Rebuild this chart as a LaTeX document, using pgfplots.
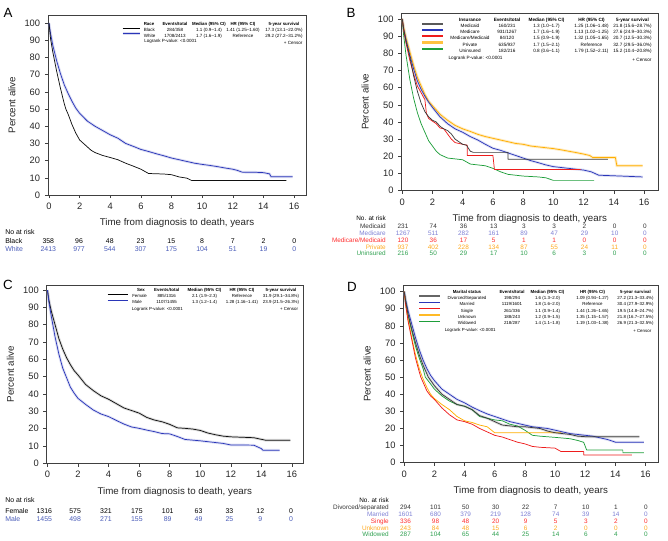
\documentclass[border=0pt]{standalone}
\usepackage{pgfplots}
\usepackage{pgfplotstable}
\pgfplotsset{compat=1.18}
\usepackage{fontspec}
\setmainfont{Liberation Sans}

\definecolor{cblack}{HTML}{111111}
\definecolor{cgray}{HTML}{3A3A3A}
\definecolor{cblue}{HTML}{2A36B8}
\definecolor{cred}{HTML}{EE1C1C}
\definecolor{corange}{HTML}{FFAE00}
\definecolor{cgreen}{HTML}{1E9E3A}
\definecolor{tblue}{HTML}{4A5CB8}
\definecolor{tpurple}{HTML}{7E80D4}
\definecolor{tred}{HTML}{FF2E2E}
\definecolor{torange}{HTML}{FFA91F}
\definecolor{tgreen}{HTML}{2FA050}

% ---------------- Panel A ----------------
\pgfplotstableread{
t S
0 100
0.1 94
0.25 87
0.5 78
0.75 70.5
1 64
1.25 59
1.5 54.5
1.75 50.5
2 47.5
2.5 43
3 40
3.5 37.5
4 35
4.5 33
5 30
5.5 28.3
6 26.5
6.5 25.3
7 24
7.5 22.8
8 21.5
8.5 20.5
9 19.5
9.5 18.5
10 17.8
10.5 17.2
11 16.5
11.5 15.7
12 15
12.3 14.3
12.6 13.3
13.5 13.2
14 13
14.4 12.3
14.5 10.6
15.9 10.6
}\Awhite
\pgfplotstableread{
t S
0 100
0.1 91
0.25 83
0.5 72
0.75 62
1 53
1.1 50
1.25 47
1.5 41
1.75 36
2 32
2.25 30
2.5 28
2.75 26
3 24.7
3.5 23
4 21.8
4.5 20.5
5 18.5
5.5 16.8
6 15
6.3 13.5
6.5 12.5
7.5 12.2
8 11.8
8.5 10.5
9 9.8
9.3 8.5
15.5 8.5
}\Ablack
% ---------------- Panel B ----------------
\pgfplotstableread{
t S
0 100
0.1 95
0.25 89
0.5 81
0.75 73
1 66
1.25 61
1.5 56
1.75 52
2 49.5
2.5 44.5
3 41
3.5 38
4 36
4.5 34.5
5 32.8
5.5 31.5
6 30.5
6.5 29.5
7 28.5
7.5 27.5
8 27
8.5 26
9 25.5
9.5 25
10 24.5
10.5 23.8
11 23
11.5 22.2
12 21.3
12.4 20.5
12.6 19.3
14.1 19.3
14.2 14.5
15.9 14.5
}\Bprivate
\pgfplotstableread{
t S
0 100
0.1 94
0.25 88
0.5 79
0.75 71
1 64
1.25 59
1.5 55
1.75 51.5
2 48.5
2.5 43
3 39
3.5 36
4 34
4.5 31.5
5 29.5
5.5 27
6 24.7
6.5 23.5
7 22
7.5 20.5
8 19
8.5 17.5
9 16.3
9.5 15
10 14
10.5 13.5
11 13
11.5 12.5
12 12
12.5 11
13 9
14.5 8.5
15.9 8
}\Bmedicare
\pgfplotstableread{
t S
0 100
0.1 94
0.25 87
0.5 78
0.75 67
1 58
1.25 51
1.5 46
1.75 43
2 41
2.25 40
2.5 37.5
2.75 36
3 35
3.25 33
3.5 30
3.75 28.5
4 27
4.25 26.5
4.5 23
4.7 22.3
7 22.3
7 18.3
13.6 18.3
}\Bmedicaid
\pgfplotstableread{
t S
0 100
0.1 93
0.25 86
0.5 76
0.75 68
1 61
1.25 57
1.5 53
1.6 45
1.75 42
2 40.5
2.25 39
2.5 36.5
2.75 36
3 33
3.25 30
3.5 28
4 27
4.3 26.5
4.3 20.5
6 20.5
6.1 12.3
11.8 12.3
}\Bmedmed
\pgfplotstableread{
t S
0 100
0.1 90
0.25 79
0.5 65
0.75 54
1 45.5
1.25 39
1.5 34
1.75 29
2 26
2.25 23
2.5 21
3 19
3.5 18.5
4 18
4.5 15.5
5 15
5.5 14.5
6 13
6.5 11
7 9.5
7.5 9
8 8.5
9 8
9.5 7.5
10 6
12.7 6
}\Buninsured
% ---------------- Panel C ----------------
\pgfplotstableread{
t S
0 100
0.1 94
0.25 88
0.5 80
0.75 72
1 66
1.25 61
1.5 57
1.75 53.5
2 51
2.5 45.5
3 42
3.5 39
4 37
4.5 34.5
5 32
5.5 30.5
6 29
6.5 26.5
7 25
7.5 24
8 22.5
8.5 20.5
9 20.2
9.5 19.8
10 19
10.5 17.5
11 16.5
11.5 15.7
12 15.3
13.5 14.8
14.3 13.3
15.9 13.3
}\Cfemale
\pgfplotstableread{
t S
0 100
0.1 93
0.25 85
0.5 73
0.75 63
1 55
1.25 49.5
1.5 44
1.75 40.5
2 37.5
2.5 34
3 30.8
3.5 28.5
4 27
4.5 24.8
5 22.7
5.5 21
6 20.2
6.5 19.2
7 18.3
7.5 17.2
8 17
8.5 15.5
9 13.8
10 13
11 12
11.5 11.5
12 10.6
13.5 10.5
14 8.5
14.1 7.6
15.2 7.6
}\Cmale
% ---------------- Panel D ----------------
\pgfplotstableread{
t S
0 100
0.1 95
0.25 89
0.5 81
0.75 73
1 66
1.25 60
1.5 55
1.75 51
2 48
2.5 43
3 40
3.5 37
4 35
4.5 32.5
5 30.4
5.5 28.5
6 27
6.5 25.5
7 24
7.5 23
8 22
8.5 21
9 20.5
9.5 20
10 19
10.5 18
11 17
11.5 16.5
12 16
12.5 15.5
13 14.5
13.5 13.5
14 12
15.9 12
}\Dmarried
\pgfplotstableread{
t S
0 100
0.1 94
0.25 87
0.5 78
0.75 70
1 63
1.25 57
1.5 52
1.6 50
2 45
2.5 40
3 37
3.5 34
4 33
4.5 31
5 27.5
5.5 26
6 24
6.5 22
7 21.5
7.5 21
8 21
8.5 20.5
9 20
9.5 18.5
10 17.5
10.5 17
11 16.5
11.5 15.5
12 15.2
15.6 15.2
}\Ddivorced
\pgfplotstableread{
t S
0 100
0.1 92
0.25 83
0.5 72
0.75 61
1 53
1.1 50
1.25 47
1.5 42
1.75 39
2 37
2.5 32
3 28
3.5 25
4 24
4.5 22.5
5 20
5.5 18
6 16
6.5 15
7 13.5
7.5 12
8 11
8.5 9.5
9 9
10 8.5
10.4 6.5
11.9 6.5
11.9 4.5
15.1 4.5
}\Dsingle
\pgfplotstableread{
t S
0 100
0.1 92
0.25 84
0.5 73
0.75 63
1 55
1.2 50
1.5 44
1.75 40
2 37.5
2.5 34
3 31
3.5 27
4 24.5
4.5 23.5
5 22
5.5 21
6 17.5
10.4 17.5
}\Dunknown
\pgfplotstableread{
t S
0 100
0.1 94
0.25 86
0.5 77
0.75 68
1 61
1.25 55
1.4 50
1.75 46
2 43
2.5 39
3 36
3.5 34
4 33
4.5 31
5 27
5.5 26
6 25
6.5 24.5
7 22.5
7.5 21.5
8 19
8.5 16
9 15.5
10 14.8
11 14
11.5 13
11.9 11.9
12.1 7.4
14.5 7.4
14.5 5.8
15.9 5.8
}\Dwidowed

\pgfplotsset{
  km/.style={
    scale only axis, anchor=south west,
    ymin=0, xtick={0,2,...,16}, ytick={0,10,...,100},
    tick pos=left, tick align=outside, major tick length=2.4pt,
    axis line style={line width=0.4pt, black!75},
    tick style={line width=0.4pt, black!75},
    /pgf/number format/assume math mode=true,
    ticklabel style={font=\fontsize{7}{7}\selectfont, text=black!85},
    xlabel={Time from diagnosis to death, years},
    ylabel={Percent alive},
    label style={font=\fontsize{7.3}{8}\selectfont, text=black!85},
  },
  h/.style={line width=2pt, draw opacity=0.3, #1},
  c/.style={line width=0.55pt, line join=round, #1},
}

\newcommand\legrow[6]{%
  \node[anchor=\nanc] at (\cn,#1) {#2};
  \node[anchor=mid] at (\ce,#1) {#3};
  \node[anchor=mid] at (\cm,#1) {#4};
  \node[anchor=mid] at (\ch,#1) {#5};
  \node[anchor=mid] at (\cs,#1) {#6};}
\newcommand\riskrow[5]{%
  \foreach \v [count=\i from 0] in {#5} {\node[text=#4, anchor=mid] at ({#1+#2*\i},#3) {\v};}}

\begin{document}
\begin{tikzpicture}
\path[use as bounding box] (0,0) rectangle (501pt,-405pt);

% ---- A ----
\begin{axis}[km, at={(36pt,-146.25pt)}, width=193.5pt, height=135pt,
  xmin=-0.065, xmax=16.78, ymax=104.65]
\addplot[h=cblue!55] table {\Awhite};
\addplot[c=cblue] table {\Awhite};
\addplot[c=cblack] table {\Ablack};
\end{axis}

% ---- B ----
\begin{axis}[km, at={(301.1pt,-143pt)}, width=192.4pt, height=133.3pt,
  xmin=-0.05, xmax=16.92, ymax=103.5]
\addplot[h=corange!80] table {\Bprivate};
\addplot[h=cblue!50] table {\Bmedicare};
\addplot[c=corange] table {\Bprivate};
\addplot[c=cblue] table {\Bmedicare};
\addplot[c=cgreen] table {\Buninsured};
\addplot[c=cred] table {\Bmedmed};
\addplot[c=cgray] table {\Bmedicaid};
\end{axis}

% ---- C ----
\begin{axis}[km, at={(35pt,-347.5pt)}, width=192.2pt, height=133.7pt,
  xmin=-0.05, xmax=16.72, ymax=102.9]
\addplot[h=black!45] table {\Cfemale};
\addplot[h=cblue!50] table {\Cmale};
\addplot[c=cblack] table {\Cfemale};
\addplot[c=cblue] table {\Cmale};
\end{axis}

% ---- D ----
\begin{axis}[km, at={(302.6pt,-347pt)}, width=190.9pt, height=133.3pt,
  xmin=-0.05, xmax=16.83, ymax=103.9]
\addplot[h=cblue!50] table {\Dmarried};
\addplot[h=black!45] table {\Ddivorced};
\addplot[c=cblue] table {\Dmarried};
\addplot[c=cgreen] table {\Dwidowed};
\addplot[c=corange] table {\Dunknown};
\addplot[c=cred] table {\Dsingle};
\addplot[c=cgray] table {\Ddivorced};
\end{axis}

\begin{scope}[x=0.75pt, y=-0.75pt, every node/.style={inner sep=0pt}]
% panel letters
\node[font=\fontsize{10}{10}\selectfont] at (8,13) {A};
\node[font=\fontsize{10}{10}\selectfont] at (351,12.5) {B};
\node[font=\fontsize{10}{10}\selectfont] at (8,285) {C};
\node[font=\fontsize{10}{10}\selectfont] at (352,286.5) {D};

% ---- legend A ----
\begin{scope}[font=\fontsize{3.4}{4}\selectfont]
\def\cn{143.5}\def\nanc{mid west}\def\ce{175}\def\cm{209}\def\ch{243}\def\cs{284}
\begin{scope}[font=\fontsize{3.3}{4}\selectfont\bfseries]
\legrow{22}{Race}{Events/total}{Median (95\% CI)}{HR (95\% CI)}{5-year survival}
\end{scope}
\legrow{28}{Black}{284/358}{1.1 (0.9--1.4)}{1.41 (1.25--1.60)}{17.3 (13.1--22.0\%)}
\legrow{33.7}{White}{1708/2413}{1.7 (1.6--1.9)}{Reference}{29.2 (27.2--31.2\%)}
\node[anchor=mid west] at (144,39.3) {Logrank P-value: \textless0.0001};
\node[anchor=mid east] at (302.7,41.3) {+ Censor};
\draw[black, line width=0.7pt] (122.7,28) -- (140,28);
\draw[cblue!55, line width=2pt, opacity=0.35] (122.7,33.7) -- (140,33.7);
\draw[cblue, line width=0.6pt] (122.7,33.7) -- (140,33.7);
\end{scope}

% ---- legend B ----
\begin{scope}[font=\fontsize{3.5}{4}\selectfont]
\def\cn{470}\def\nanc{mid}\def\ce{507}\def\cm{546.5}\def\ch{591.5}\def\cs{632.5}
\begin{scope}[font=\fontsize{3.5}{4}\selectfont\bfseries]
\legrow{17.5}{Insurance}{Events/total}{Median (95\% CI)}{HR (95\% CI)}{5-year survival}
\end{scope}
\legrow{24}{Medicaid}{160/231}{1.3 (1.0--1.7)}{1.25 (1.06--1.48)}{21.8 (15.6--28.7\%)}
\legrow{30}{Medicare}{931/1267}{1.7 (1.6--1.9)}{1.13 (1.02--1.25)}{27.6 (24.9--30.3\%)}
\legrow{36}{Medicare/Medicaid}{84/120}{1.5 (0.9--1.9)}{1.32 (1.05--1.65)}{20.7 (12.5--30.3\%)}
\legrow{42.5}{Private}{635/937}{1.7 (1.5--2.1)}{Reference}{32.7 (29.5--36.0\%)}
\legrow{49}{Uninsured}{182/216}{0.8 (0.6--1.1)}{1.79 (1.52--2.11)}{15.2 (10.4--20.8\%)}
\node[anchor=mid west] at (448.3,56) {Logrank P-value: \textless0.0001};
\node[anchor=mid east] at (651.7,58) {+ Censor};
\draw[black!65, line width=1.2pt] (422.3,24) -- (443.3,24);
\draw[cblue, line width=0.8pt] (422.3,30) -- (443.3,30);
\draw[cred, line width=0.8pt] (422.3,36) -- (443.3,36);
\draw[corange!75, line width=1.6pt] (422.3,42.5) -- (443.3,42.5);
\draw[cgreen, line width=0.8pt] (422.3,49) -- (443.3,49);
\end{scope}

% ---- legend C ----
\begin{scope}[font=\fontsize{3.3}{4}\selectfont]
\def\cn{132}\def\nanc{mid west}\def\ce{166.7}\def\cm{204.5}\def\ch{242}\def\cs{281}
\node[anchor=mid, font=\fontsize{3.3}{4}\selectfont\bfseries] at (141,288.3) {Sex};
\begin{scope}[font=\fontsize{3.3}{4}\selectfont\bfseries]
\node[anchor=mid] at (\ce,288.3) {Events/total};
\node[anchor=mid] at (\cm,288.3) {Median (95\% CI)};
\node[anchor=mid] at (\ch,288.3) {HR (95\% CI)};
\node[anchor=mid] at (\cs,288.3) {5-year survival};
\end{scope}
\legrow{294}{Female}{885/1316}{2.1 (1.9--2.3)}{Reference}{31.9 (29.1--34.8\%)}
\legrow{300}{Male}{1107/1455}{1.3 (1.2--1.4)}{1.28 (1.16--1.41)}{23.9 (21.5--26.3\%)}
\node[anchor=mid west] at (131.7,306.7) {Logrank P-value: \textless0.0001};
\node[anchor=mid east] at (298.3,306.7) {+ Censor};
\draw[black, line width=0.7pt] (107.7,294) -- (127.7,294);
\draw[cblue, line width=0.6pt] (107.7,300) -- (127.7,300);
\end{scope}

% ---- legend D ----
\begin{scope}[font=\fontsize{3.3}{4}\selectfont]
\def\cn{467}\def\nanc{mid}\def\ce{512}\def\cm{547.5}\def\ch{592.5}\def\cs{635.5}
\begin{scope}[font=\fontsize{3.3}{4}\selectfont\bfseries]
\legrow{289.5}{Marital status}{Events/total}{Median (95\% CI)}{HR (95\% CI)}{5-year survival}
\end{scope}
\legrow{296}{Divorced/Separated}{198/294}{1.6 (1.3--2.0)}{1.09 (0.94--1.27)}{27.2 (21.3--33.4\%)}
\legrow{302.4}{Married}{1119/1601}{1.8 (1.6--2.0)}{Reference}{30.4 (27.9--32.9\%)}
\legrow{308.6}{Single}{261/336}{1.1 (0.9--1.4)}{1.44 (1.26--1.65)}{19.5 (14.8--24.7\%)}
\legrow{315}{Unknown}{188/243}{1.2 (0.9--1.5)}{1.35 (1.15--1.57)}{21.8 (16.7--27.5\%)}
\legrow{321.2}{Widowed}{218/287}{1.4 (1.1--1.8)}{1.19 (1.03--1.38)}{26.9 (21.3--32.5\%)}
\node[anchor=mid west] at (444.5,327.5) {Logrank P-value: \textless0.0001};
\node[anchor=mid east] at (651.5,328.5) {+ Censor};
\draw[black!60, line width=1.6pt] (419,296) -- (440,296);
\draw[cblue, line width=0.8pt] (419,302.4) -- (440,302.4);
\draw[cred, line width=0.8pt] (419,308.6) -- (440,308.6);
\draw[corange!85, line width=1pt] (419,315) -- (440,315);
\draw[cgreen, line width=0.8pt] (419,321.2) -- (440,321.2);
\end{scope}

% ---- risk table A ----
\begin{scope}[font=\fontsize{5.2}{6}\selectfont]
\node[anchor=mid west] at (5,231) {No at risk};
\node[anchor=mid west] at (5,240) {Black};
\node[anchor=mid west, text=tblue] at (5,248) {White};
\riskrow{48.3}{30.75}{240}{black}{358,96,48,23,15,8,7,2,0}
\riskrow{48.3}{30.75}{248}{tblue}{2413,977,544,307,175,104,51,19,0}
\end{scope}

% ---- risk table C ----
\begin{scope}[font=\fontsize{5.2}{6}\selectfont]
\node[anchor=mid west] at (5,499) {No at risk};
\node[anchor=mid west] at (5,510) {Female};
\node[anchor=mid west, text=tblue] at (5,518) {Male};
\riskrow{44.3}{30.85}{510}{black}{1316,575,321,175,101,63,33,12,0}
\riskrow{44.3}{30.85}{518}{tblue}{1455,498,271,155,89,49,25,9,0}
\end{scope}

% ---- risk table B ----
\begin{scope}[font=\fontsize{4.8}{5}\selectfont]
\node[anchor=mid east] at (386,217) {No. at risk};
\node[anchor=mid east, text=black!80] at (386,225) {Medicaid};
\node[anchor=mid east, text=tpurple] at (386,232) {Medicare};
\node[anchor=mid east, text=tred] at (386,239) {Medicare/Medicaid};
\node[anchor=mid east, text=torange] at (386,245.7) {Private};
\node[anchor=mid east, text=tgreen] at (386,252.3) {Uninsured};
\riskrow{403}{30.25}{225}{black!80}{231,74,36,13,3,3,2,0,0}
\riskrow{403}{30.25}{232}{tpurple}{1267,511,282,161,89,47,29,10,0}
\riskrow{403}{30.25}{239}{tred}{120,36,17,5,1,1,0,0,0}
\riskrow{403}{30.25}{245.7}{torange}{937,402,228,134,87,55,24,11,0}
\riskrow{403}{30.25}{252.3}{tgreen}{216,50,29,17,10,6,3,0,0}
\end{scope}

% ---- risk table D ----
\begin{scope}[font=\fontsize{4.8}{5}\selectfont]
\node[anchor=mid east] at (389,499.3) {No. at risk};
\node[anchor=mid east, text=black!80] at (389,506) {Divorced/separated};
\node[anchor=mid east, text=tpurple] at (389,512.7) {Married};
\node[anchor=mid east, text=tred] at (389,520) {Single};
\node[anchor=mid east, text=torange] at (389,526.7) {Unknown};
\node[anchor=mid east, text=tgreen] at (389,533.3) {Widowed};
\riskrow{405.5}{30.05}{506}{black!80}{294,101,50,30,22,7,10,1,0}
\riskrow{405.5}{30.05}{512.7}{tpurple}{1601,680,379,219,128,74,39,14,0}
\riskrow{405.5}{30.05}{520}{tred}{336,98,48,20,9,5,3,2,0}
\riskrow{405.5}{30.05}{526.7}{torange}{243,84,48,15,6,2,0,0,0}
\riskrow{405.5}{30.05}{533.3}{tgreen}{287,104,65,44,25,14,6,4,0}
\end{scope}
\end{scope}
\end{tikzpicture}
\end{document}
